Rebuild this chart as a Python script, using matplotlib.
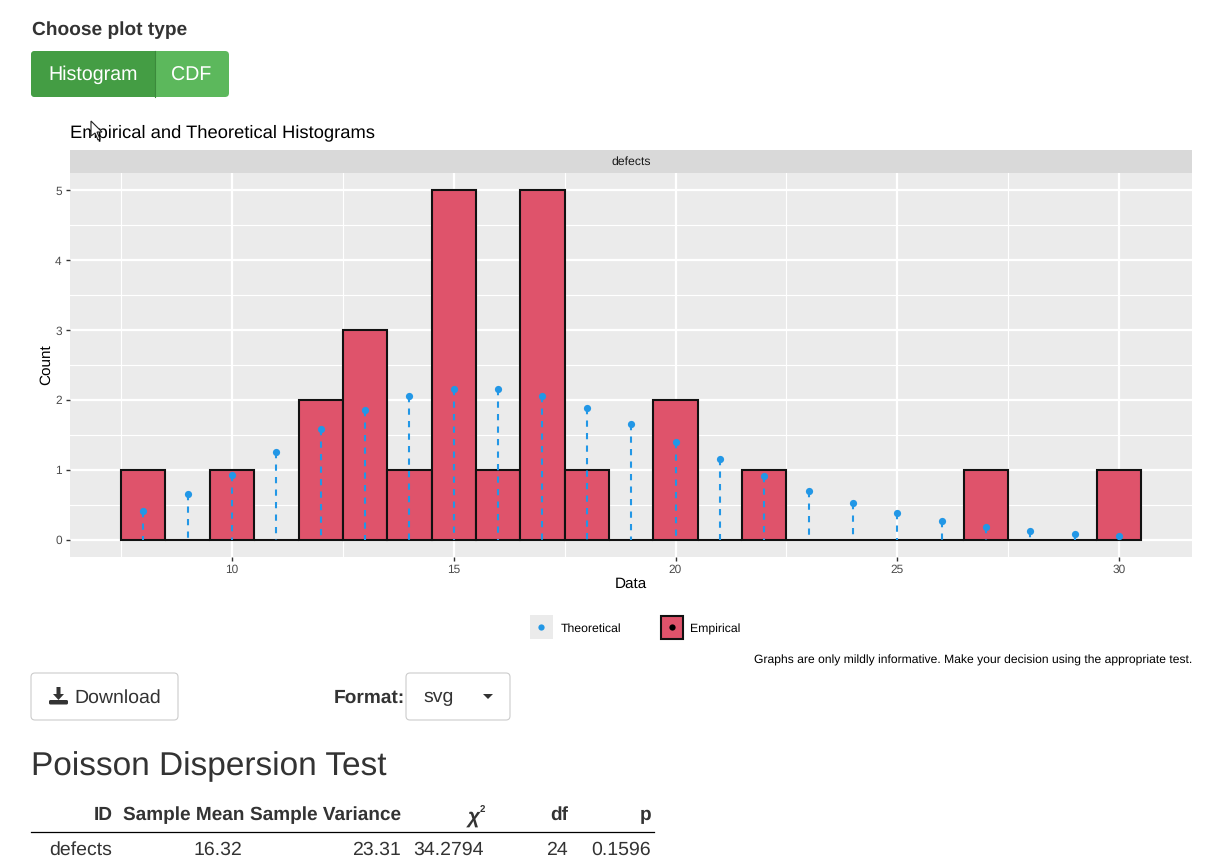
import matplotlib
matplotlib.use("Agg")
import matplotlib.pyplot as plt
from matplotlib.patches import FancyBboxPatch, Rectangle, Polygon

W, H = 1215, 858

plt.rcParams["font.family"] = ["Liberation Sans", "DejaVu Sans"]
plt.rcParams["text.hinting"] = "no_hinting"

# histogram data
bins = list(range(8, 31))
counts = [1, 0, 1, 0, 2, 3, 1, 5, 1, 5, 1, 0, 2, 0, 1, 0, 0, 0, 0, 1, 0, 0, 1]
theoretical = [0.41, 0.65, 0.93, 1.26, 1.58, 1.85, 2.05, 2.15, 2.15, 2.06, 1.88, 1.66,
               1.40, 1.15, 0.91, 0.70, 0.53, 0.38, 0.27, 0.18, 0.12, 0.08, 0.05]

x_ticks = [10, 15, 20, 25, 30]
x_minor = [7.5, 12.5, 17.5, 22.5, 27.5]
y_ticks = [0, 1, 2, 3, 4, 5]
y_minor = [0.5, 1.5, 2.5, 3.5, 4.5]

# table under the chart
table_headers = ["ID", "Sample Mean", "Sample Variance", "χ", "df", "p"]
table_row = ["defects", "16.32", "23.31", "34.2794", "24", "0.1596"]

RED = "#df536b"
BLUE = "#2297e6"
TEXT = "#333333"
AXIS_TEXT = "#4d4d4d"


def add_axes_px(fig, left, top, right, bottom):
    return fig.add_axes([left / W, 1 - bottom / H, (right - left) / W, (bottom - top) / H])


fig = plt.figure(figsize=(W / 100, H / 100), dpi=100, facecolor="white")

# --- the ggplot panel
ax = add_axes_px(fig, 70, 173, 1192, 557)
ax.set_facecolor("#ebebeb")
ax.set_xlim(6.347, 31.646)
ax.set_ylim(-0.25, 5.25)
for s in ax.spines.values():
    s.set_visible(False)
ax.set_axisbelow(True)

ax.set_xticks(x_ticks)
ax.set_xticks(x_minor, minor=True)
ax.set_yticks(y_ticks)
ax.set_yticks(y_minor, minor=True)
ax.grid(which="major", color="white", lw=1.6)
ax.grid(which="minor", color="white", lw=0.8)
ax.tick_params(which="major", length=3, width=1, color="#333333", labelsize=8.6,
               labelcolor=AXIS_TEXT, pad=3)
ax.tick_params(axis="x", which="major", pad=2)
ax.tick_params(which="minor", length=0)

ax.bar(bins, counts, width=1, color=RED, edgecolor="#111111", lw=1.5, zorder=2)
# start the dashes at the point, like the reference
ax.vlines(bins, theoretical, 0, color=BLUE, lw=1.5, linestyles=(0, (3, 3)), zorder=3)
ax.plot(bins, theoretical, "o", color=BLUE, ms=5.2, mew=0, zorder=4)

ax.set_xlabel("Data", fontsize=11, color="black", labelpad=1)
ax.set_ylabel("Count", fontsize=11, color="black", labelpad=1)

# --- everything else is placed in pixels on a full figure overlay
ui = fig.add_axes([0, 0, 1, 1], facecolor="none")
ui.set_xlim(0, W)
ui.set_ylim(H, 0)
ui.axis("off")


def round_box(x0, y0, x1, y1, face, edge="none", lw=0.8, r=4):
    p = FancyBboxPatch((x0 + r, y0 + r), x1 - x0 - 2 * r, y1 - y0 - 2 * r,
                       boxstyle=f"round,pad={r},rounding_size={r}",
                       facecolor=face, edgecolor=edge, lw=lw)
    ui.add_patch(p)
    return p


# facet strip + chart title
ui.add_patch(Rectangle((70, 150), 1122, 23, facecolor="#d9d9d9", edgecolor="none"))
ui.text(631, 162, "defects", fontsize=8.8, color="#1a1a1a", ha="center", va="center")
ui.text(70, 133, "Empirical and Theoretical Histograms", fontsize=13.2, color="black", va="center")

# mouse cursor over the title
ui.add_patch(Polygon([(91, 121), (91, 136), (95, 133), (98, 140), (100, 139), (97, 132), (102, 132)],
                     facecolor="white", edgecolor="#222222", lw=0.8, zorder=5))

# plot type buttons
ui.text(32, 30, "Choose plot type", fontsize=13.8, fontweight="bold", color=TEXT, va="center")
round_box(31, 51, 229, 97, "#5cb85c")
dark = round_box(31, 51, 229, 97, "#449d44")
clip = Rectangle((31, 51), 124, 46, transform=ui.transData)
dark.set_clip_path(clip)
ui.plot([155, 155], [51, 97], color="#3b8a3b", lw=0.8)
ui.text(93, 74.5, "Histogram", fontsize=14.1, color="white", ha="center", va="center")
ui.text(191, 75.5, "CDF", fontsize=14.1, color="white", ha="center", va="center")

# legend
ui.add_patch(Rectangle((530, 615), 23, 24, facecolor="#ebebeb", edgecolor="none"))
ui.plot([541], [627], "o", color=BLUE, ms=4.5, mew=0)
ui.text(561, 629, "Theoretical", fontsize=8.8, color="black", va="center")
ui.add_patch(Rectangle((660.5, 616), 22, 23, facecolor=RED, edgecolor="#111111", lw=1.5))
ui.plot([671.5], [627], "o", color="black", ms=4.5, mew=0)
ui.text(690, 629, "Empirical", fontsize=8.8, color="black", va="center")
ui.text(1192, 660, "Graphs are only mildly informative. Make your decision using the appropriate test.",
        fontsize=8.75, color="black", ha="right", va="center")

# download button and format select
round_box(31, 673, 178, 720, "white", edge="#cccccc")
ui.add_patch(Polygon([(56.5, 687), (60.5, 687), (60.5, 694), (64, 694), (58.5, 700), (53, 694), (56.5, 694)],
                     facecolor=TEXT, edgecolor="none"))
ui.add_patch(FancyBboxPatch((50, 701), 17, 2.5, boxstyle="round,pad=1,rounding_size=1.5",
                            facecolor=TEXT, edgecolor="none"))
ui.text(74, 697.5, "Download", fontsize=14, color=TEXT, va="center")
ui.text(405, 697.5, "Format:", fontsize=13.8, fontweight="bold", color=TEXT, ha="right", va="center")
round_box(406, 673, 510, 720, "white", edge="#cccccc")
ui.text(423, 697.5, "svg", fontsize=14, color=TEXT, va="center")
ui.add_patch(Polygon([(483, 694), (493, 694), (488, 699)], facecolor=TEXT, edgecolor="none"))

# dispersion test table
ui.text(31, 767, "Poisson Dispersion Test", fontsize=24, color=TEXT, va="center")
head_right = [113, 244, 401, None, 568, 651]
for xr, t in zip(head_right, table_headers):
    if xr is not None:
        ui.text(xr, 815, t, fontsize=13.7, fontweight="bold", color=TEXT, ha="right", va="center")
ui.text(480, 817, table_headers[3], fontsize=15, fontweight="bold", style="italic", color=TEXT,
        ha="right", va="center")
ui.text(480, 809, "2", fontsize=7, fontweight="bold", color=TEXT, va="center")
ui.plot([31, 654], [832, 832], color="black", lw=0.9)
row_right = [112, 242, 401, 484, 568, 651]
for xr, t in zip(row_right, table_row):
    ui.text(xr, 850, t, fontsize=14, color=TEXT, ha="right", va="center")

fig.savefig("out.png", dpi=100)
